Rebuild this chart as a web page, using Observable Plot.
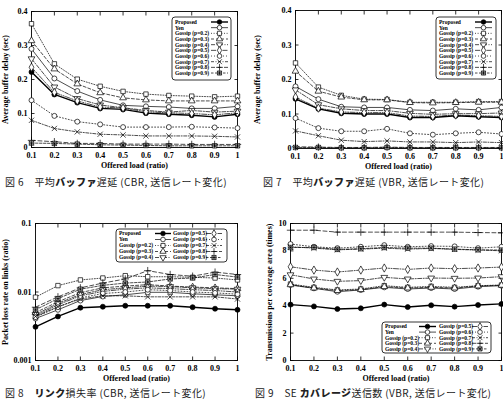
<!DOCTYPE html>
<html>
<head>
<meta charset="utf-8">
<script src="https://cdn.jsdelivr.net/npm/d3@7"></script>
<script src="https://cdn.jsdelivr.net/npm/@observablehq/plot@0.6"></script>
<style>
  body { margin: 0; background: #fff; }
  #fig { position: relative; width: 503px; height: 399px; overflow: hidden; background: #fff; }
  .panel { position: absolute; }
  .cap { position: absolute; font-family: "Noto Sans CJK JP", sans-serif; font-size: 10px; line-height: 12px; white-space: nowrap; color: #222; letter-spacing: 0.4px; }
  .cap b { font-weight: 900; }
  #legends { position: absolute; left: 0; top: 0; pointer-events: none; }
</style>
</head>
<body>
<div id="fig"></div>
<script>
// Offered load on the x axis (shared by all four panels)
const loads = [0.1, 0.2, 0.3, 0.4, 0.5, 0.6, 0.7, 0.8, 0.9, 1.0];

// Series names, in legend order
const schemes = ["Proposed", "Yen", "Gossip (p=0.2)", "Gossip (p=0.3)", "Gossip (p=0.4)",
  "Gossip (p=0.5)", "Gossip (p=0.6)", "Gossip (p=0.7)", "Gossip (p=0.8)", "Gossip (p=0.9)"];

// Average buffer delay [s], CBR traffic (one row per scheme)
const delayCBR = [
  [0.222, 0.156, 0.132, 0.115, 0.112, 0.101, 0.098, 0.095, 0.090, 0.098],
  [0.290, 0.203, 0.166, 0.140, 0.124, 0.121, 0.119, 0.115, 0.115, 0.121],
  [0.364, 0.246, 0.201, 0.180, 0.165, 0.157, 0.153, 0.151, 0.149, 0.151],
  [0.314, 0.231, 0.187, 0.161, 0.146, 0.140, 0.137, 0.137, 0.137, 0.137],
  [0.261, 0.178, 0.144, 0.125, 0.117, 0.109, 0.104, 0.109, 0.104, 0.107],
  [0.236, 0.162, 0.137, 0.119, 0.116, 0.105, 0.102, 0.100, 0.096, 0.102],
  [0.139, 0.093, 0.076, 0.068, 0.060, 0.060, 0.060, 0.061, 0.059, 0.057],
  [0.080, 0.056, 0.046, 0.039, 0.037, 0.034, 0.034, 0.034, 0.033, 0.031],
  [0.021, 0.017, 0.012, 0.012, 0.010, 0.010, 0.010, 0.009, 0.009, 0.009],
  [0.013, 0.012, 0.010, 0.008, 0.007, 0.006, 0.005, 0.005, 0.005, 0.005]
];

// Average buffer delay [s], VBR traffic
const delayVBR = [
  [0.144, 0.115, 0.102, 0.100, 0.100, 0.090, 0.090, 0.095, 0.092, 0.090],
  [0.180, 0.143, 0.121, 0.119, 0.119, 0.112, 0.110, 0.115, 0.112, 0.119],
  [0.248, 0.178, 0.154, 0.143, 0.142, 0.134, 0.134, 0.134, 0.136, 0.136],
  [0.224, 0.166, 0.149, 0.141, 0.141, 0.133, 0.132, 0.133, 0.134, 0.134],
  [0.170, 0.127, 0.115, 0.110, 0.110, 0.102, 0.099, 0.101, 0.101, 0.103],
  [0.149, 0.117, 0.106, 0.104, 0.104, 0.094, 0.093, 0.097, 0.095, 0.093],
  [0.088, 0.059, 0.050, 0.050, 0.057, 0.044, 0.040, 0.044, 0.047, 0.042],
  [0.051, 0.037, 0.024, 0.020, 0.022, 0.019, 0.019, 0.017, 0.019, 0.017],
  [0.005, 0.004, 0.003, 0.003, 0.004, 0.003, 0.003, 0.003, 0.003, 0.003],
  [0.003, 0.003, 0.002, 0.002, 0.003, 0.002, 0.002, 0.002, 0.002, 0.002]
];

// Link loss rate, CBR traffic (log scale)
const lossCBR = [
  [0.0031, 0.0044, 0.0059, 0.0061, 0.0063, 0.0063, 0.0063, 0.0060, 0.0057, 0.0055],
  [0.0041, 0.0055, 0.0075, 0.0086, 0.0091, 0.0099, 0.0099, 0.0094, 0.0091, 0.0088],
  [0.0084, 0.0124, 0.0150, 0.0160, 0.0173, 0.0167, 0.0167, 0.0164, 0.0160, 0.0150],
  [0.0050, 0.0072, 0.0098, 0.0115, 0.0122, 0.0128, 0.0122, 0.0118, 0.0115, 0.0112],
  [0.0047, 0.0068, 0.0092, 0.0108, 0.0115, 0.0122, 0.0120, 0.0115, 0.0112, 0.0110],
  [0.0045, 0.0065, 0.0088, 0.0102, 0.0110, 0.0115, 0.0112, 0.0108, 0.0105, 0.0100],
  [0.0043, 0.0060, 0.0082, 0.0095, 0.0100, 0.0108, 0.0105, 0.0100, 0.0097, 0.0093],
  [0.0044, 0.0061, 0.0079, 0.0088, 0.0088, 0.0085, 0.0085, 0.0085, 0.0085, 0.0079],
  [0.0060, 0.0085, 0.0115, 0.0135, 0.0155, 0.0205, 0.0180, 0.0170, 0.0195, 0.0180],
  [0.0055, 0.0080, 0.0110, 0.0125, 0.0135, 0.0140, 0.0155, 0.0160, 0.0180, 0.0165]
];

// Transmissions per coverage area, VBR traffic
const coverageVBR = [
  [4.08, 3.95, 3.76, 3.81, 4.08, 3.90, 4.03, 3.93, 4.05, 4.13],
  [5.51, 5.27, 5.02, 5.15, 5.34, 5.22, 5.29, 5.22, 5.39, 5.46],
  [5.58, 5.34, 5.15, 5.22, 5.46, 5.34, 5.41, 5.34, 5.46, 5.51],
  [5.53, 5.29, 5.10, 5.17, 5.39, 5.29, 5.34, 5.29, 5.44, 5.49],
  [6.26, 5.95, 5.78, 5.83, 6.07, 5.95, 6.02, 6.00, 6.02, 6.12],
  [6.84, 6.60, 6.46, 6.60, 6.75, 6.65, 6.75, 6.70, 6.75, 6.82],
  [8.50, 8.30, 8.20, 8.30, 8.42, 8.30, 8.35, 8.33, 8.20, 8.30],
  [8.30, 8.20, 8.08, 8.13, 8.20, 8.13, 8.18, 8.11, 8.06, 8.01],
  [9.51, 9.51, 9.37, 9.37, 9.37, 9.37, 9.37, 9.37, 9.34, 9.32],
  [8.25, 8.25, 8.11, 8.16, 8.25, 8.20, 8.20, 8.13, 8.08, 8.06]
];

// Tick values
const delayTicks = [0, 0.1, 0.2, 0.3, 0.4];
const lossTicks = [0.001, 0.01, 0.1];
const coverageTicks = [0, 2, 4, 6, 8, 10];

// Point shapes
const triangleDown = {
  draw(ctx, size) {
    const r = Math.sqrt(size / 1.3);
    ctx.moveTo(0, r); ctx.lineTo(r * 0.866, -r * 0.5); ctx.lineTo(-r * 0.866, -r * 0.5); ctx.closePath();
  }
};
const boxedAsterisk = {
  draw(ctx, size) {
    const s = Math.sqrt(size) / 2;
    ctx.moveTo(-s, -s); ctx.lineTo(s, -s); ctx.lineTo(s, s); ctx.lineTo(-s, s); ctx.closePath();
    ctx.moveTo(-s, -s); ctx.lineTo(s, s); ctx.moveTo(s, -s); ctx.lineTo(-s, s);
    ctx.moveTo(0, -s); ctx.lineTo(0, s); ctx.moveTo(-s, 0); ctx.lineTo(s, 0);
  }
};

// Line and point style for each scheme
const styles = [
  {symbol: d3.symbolCircle, fill: "black", dash: null, width: 1.4},
  {symbol: d3.symbolCircle, fill: "white", dash: null, width: 0.7},
  {symbol: d3.symbolSquare, fill: "white", dash: "1,1.6", width: 0.7},
  {symbol: d3.symbolTriangle, fill: "white", dash: "3,2", width: 0.7},
  {symbol: triangleDown, fill: "white", dash: "4,1.5,1,1.5", width: 0.7},
  {symbol: d3.symbolDiamond, fill: "white", dash: "5,1.5,1,1.5,1,1.5", width: 0.7},
  {symbol: d3.symbolCircle, fill: "white", dash: "1,2", width: 0.7},
  {symbol: d3.symbolTimes, fill: "none", dash: "3,1.5,1,1.5", width: 0.7},
  {symbol: d3.symbolPlus, fill: "none", dash: "4,2.5", width: 0.7},
  {symbol: boxedAsterisk, fill: "white", dash: "2.5,1.5", width: 0.7}
];

const fmtX = d => d3.format("~g")(+d.toFixed(1));
const fig = document.getElementById("fig");

function panel(cfg) {
  const series = [];
  cfg.values.forEach((vals, i) => {
    const st = styles[i];
    const rows = loads.map((x, j) => ({load: x, value: vals[j]}));
    series.push(Plot.line(rows, {x: "load", y: "value", stroke: "black", strokeWidth: st.width, strokeDasharray: st.dash}));
    series.push(Plot.dot(rows, {x: "load", y: "value", symbol: st.symbol, r: 2.5, fill: st.fill, stroke: "black", strokeWidth: 0.7}));
  });
  const inward = {tickFormat: () => "", label: null, tickSize: -3.5, strokeWidth: 0.8};
  const chart = Plot.plot({
    width: cfg.width, height: cfg.height,
    marginLeft: cfg.m[0], marginRight: cfg.m[1], marginTop: cfg.m[2], marginBottom: cfg.m[3],
    style: {fontFamily: "'Liberation Serif', serif", fontSize: "8px", background: "white", color: "black", overflow: "visible"},
    x: {domain: [0.1, 1]},
    y: {type: cfg.yType || "linear", domain: cfg.yDomain},
    marks: [
      Plot.frame({stroke: "black", strokeWidth: 0.9}),
      ...series,
      Plot.axisX(loads, {anchor: "bottom", tickSize: 0, tickPadding: 5, tickFormat: fmtX,
        label: cfg.xLabel, labelAnchor: "center", labelArrow: "none", labelOffset: 20, fontWeight: "bold"}),
      Plot.axisX(loads, {anchor: "bottom", ...inward}),
      Plot.axisX(loads, {anchor: "top", ...inward}),
      Plot.axisY(cfg.yTicks, {anchor: "left", tickSize: 0, tickPadding: 4, tickFormat: cfg.yFormat,
        label: cfg.yLabel, labelAnchor: "center", labelArrow: "none", labelOffset: cfg.yLabelOffset, fontWeight: "bold"}),
      Plot.axisY(cfg.yTicks, {anchor: "left", ...inward}),
      Plot.axisY(cfg.yTicks, {anchor: "right", ...inward})
    ]
  });
  chart.classList.add("panel");
  chart.style.left = cfg.left + "px";
  chart.style.top = cfg.top + "px";
  fig.appendChild(chart);
}

const fmtDelay = d => d === 0 ? "0" : d.toFixed(1);

panel({values: delayCBR, left: 0, top: 0, width: 250, height: 175, m: [31, 13, 11, 28],
  yDomain: [0, 0.4], yTicks: delayTicks, yFormat: fmtDelay,
  xLabel: "Offered load (ratio)", yLabel: "Average buffer delay (sec)", yLabelOffset: 29});
panel({values: delayVBR, left: 250, top: 0, width: 253, height: 175, m: [45, 2, 10, 27],
  yDomain: [0, 0.4], yTicks: delayTicks, yFormat: fmtDelay,
  xLabel: "Offered load (ratio)", yLabel: "Average buffer delay (sec)", yLabelOffset: 41});
panel({values: lossCBR, left: 0, top: 195, width: 250, height: 195, m: [35, 13, 28, 30],
  yType: "log", yDomain: [0.001, 0.1], yTicks: lossTicks, yFormat: d3.format("~g"),
  xLabel: "Offered load (ratio)", yLabel: "Packet loss rate on links (ratio)", yLabelOffset: 33});
panel({values: coverageVBR, left: 250, top: 195, width: 253, height: 195, m: [40, 2, 28, 30],
  yDomain: [0, 10], yTicks: coverageTicks, yFormat: d3.format("~g"),
  xLabel: "Offered load (ratio)", yLabel: "Transmissions per coverage area (times)", yLabelOffset: 24});

// Keys: boxes with a text column followed by a line sample and its point
const legendSvg = d3.select(fig).append("svg").attr("id", "legends").attr("width", 503).attr("height", 399);
function legend(box, columns, rowStep) {
  const g = legendSvg.append("g");
  g.append("rect").attr("x", box[0]).attr("y", box[1]).attr("width", box[2]).attr("height", box[3])
    .attr("rx", 3).attr("fill", "white").attr("stroke", "black").attr("stroke-width", 0.8);
  columns.forEach(col => {
    col.items.forEach((idx, k) => {
      const y = col.y0 + k * rowStep;
      const st = styles[idx];
      g.append("text").attr("x", col.tx).attr("y", y).attr("dy", "0.35em")
        .attr("font-family", "'Liberation Serif', serif").attr("font-size", 5.5).attr("font-weight", "bold")
        .text(schemes[idx]);
      g.append("line").attr("x1", col.sx[0]).attr("x2", col.sx[1]).attr("y1", y).attr("y2", y)
        .attr("stroke", "black").attr("stroke-width", st.width).attr("stroke-dasharray", st.dash);
      g.append("path").attr("transform", `translate(${(col.sx[0] + col.sx[1]) / 2},${y})`)
        .attr("d", d3.symbol(st.symbol, 17)()).attr("fill", st.fill).attr("stroke", "black").attr("stroke-width", 0.7);
    });
  });
}
const all = d3.range(10);
legend([172, 17, 59, 63], [{tx: 175, sx: [211, 228], y0: 22, items: all}], 5.67);
legend([436, 17, 60, 62], [{tx: 439, sx: [475, 492], y0: 22, items: all}], 5.67);
legend([116, 229, 111, 33], [{tx: 119, sx: [155, 171], y0: 233.5, items: [0, 1, 2, 3, 4]},
  {tx: 173, sx: [206, 222], y0: 233.5, items: [5, 6, 7, 8, 9]}], 6);
legend([382, 322, 109, 31], [{tx: 385, sx: [419, 436], y0: 326.5, items: [0, 1, 2, 3, 4]},
  {tx: 439, sx: [472, 488], y0: 326.5, items: [5, 6, 7, 8, 9]}], 5.6);

// Figure captions
const captions = [
  {x: 5, y: 176, html: "図 6　平均<b>バッファ</b>遅延 (CBR, 送信レート変化)"},
  {x: 263, y: 176, html: "図 7　平均<b>バッファ</b>遅延 (VBR, 送信レート変化)"},
  {x: 5, y: 387, html: "図 8　<b>リンク</b>損失率 (CBR, 送信レート変化)"},
  {x: 255, y: 387, html: "図 9　SE <b>カバレージ</b>送信数 (VBR, 送信レート変化)"}
];
captions.forEach(c => {
  const d = document.createElement("div");
  d.className = "cap";
  d.style.left = c.x + "px";
  d.style.top = c.y + "px";
  d.innerHTML = c.html;
  fig.appendChild(d);
});
</script>
</body>
</html>
